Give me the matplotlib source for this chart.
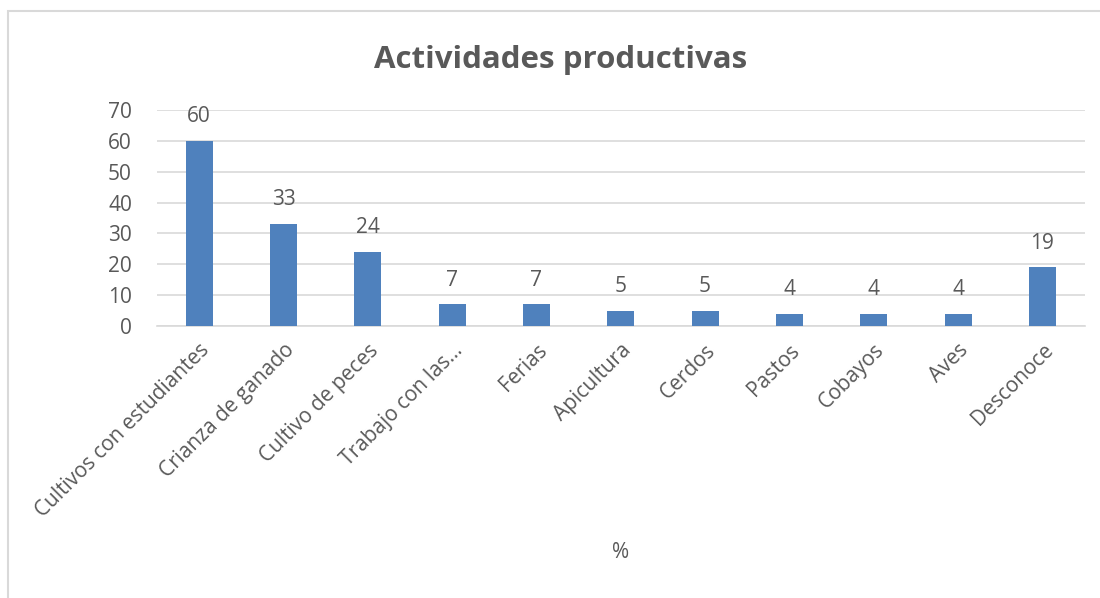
import numpy as np
import matplotlib.pyplot as plt
from matplotlib.patches import Rectangle

# Datos
categorias = ["Cultivos con estudiantes", "Crianza de ganado", "Cultivo de peces",
              "Trabajo con las...", "Ferias", "Apicultura", "Cerdos", "Pastos",
              "Cobayos", "Aves", "Desconoce"]
valores = [60, 33, 24, 7, 7, 5, 5, 4, 4, 4, 19]

gris = "#595959"
azul = "#4F81BD"
plt.rcParams['font.family'] = ['Open Sans', 'DejaVu Sans']

fig = plt.figure(figsize=(11, 5.98), dpi=100)
ax = fig.add_axes([0.1427, 0.4548, 0.8433, 0.3612])

x = np.arange(len(categorias))
barras = ax.bar(x, valores, width=0.32, color=azul, zorder=3)
ax.bar_label(barras, padding=10, fontsize=15, color=gris)

ax.set_xlim(-0.5, len(categorias) - 0.5)
ax.set_ylim(0, 70)
ax.set_yticks(range(0, 71, 10))
ax.yaxis.grid(True, color="#D9D9D9", linewidth=1.2, zorder=0)
ax.set_xticks(x)
ax.set_xticklabels(categorias, rotation=45, ha="right", rotation_mode="anchor",
                   fontsize=15, color=gris)
ax.tick_params(axis="y", labelsize=15, labelcolor=gris, length=0, pad=18)
ax.tick_params(axis="x", length=0, pad=10)
for s in ["top", "right", "left"]:
    ax.spines[s].set_visible(False)
ax.spines["bottom"].set_color("#D9D9D9")
ax.spines["bottom"].set_linewidth(1.2)

ax.set_xlabel("%", fontsize=15, color=gris)
ax.xaxis.set_label_coords(0.5, -1.0)

fig.text(0.51, 0.9, "Actividades productivas", ha="center", va="center",
         fontsize=22.5, fontweight="bold", color=gris)

# marco del grafico
fig.patches.append(Rectangle((8 / 1100, -0.05), 1.1, 1 - 11 / 598 + 0.05,
                             transform=fig.transFigure, fill=False,
                             edgecolor="#D9D9D9", linewidth=1.5))

plt.savefig("out.png", dpi=100)
